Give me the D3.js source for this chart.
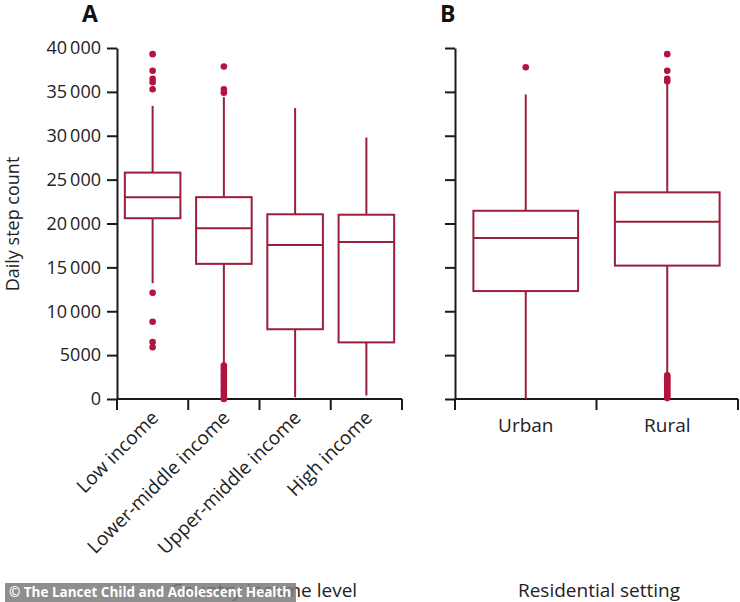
<!DOCTYPE html>
<html>
<head>
<meta charset="utf-8">
<script src="https://cdn.jsdelivr.net/npm/d3@7"></script>
<style>
  body { margin: 0; background: #fff; }
  text { font-family: "Open Sans", "Noto Sans", sans-serif; }
</style>
</head>
<body>
<div id="chart"></div>
<script>
// panel A: country income level
const incomeLevels = ["Low income", "Lower-middle income", "Upper-middle income", "High income"];
const incomeWhiskerLow = [13200, 4100, 200, 400];
const incomeQ1 = [20600, 15400, 7950, 6450];
const incomeMedian = [23000, 19450, 17550, 17900];
const incomeQ3 = [25800, 23000, 21050, 21000];
const incomeWhiskerHigh = [33400, 34400, 33150, 29800];
const incomeOutliers = [
  [39300, 37400, 36500, 36100, 35300, 12100, 8800, 6500, 5900],
  [37900, 35300, 34900, 3800, 3500, 3200, 2800, 2500, 2200, 1900, 1500, 1200, 900, 600, 300, 0],
  [],
  []
];

// panel B: residential setting
const settings = ["Urban", "Rural"];
const settingWhiskerLow = [0, 2900];
const settingQ1 = [12300, 15200];
const settingMedian = [18350, 20200];
const settingQ3 = [21450, 23550];
const settingWhiskerHigh = [34700, 35900];
const settingOutliers = [
  [37800],
  [39300, 37400, 36500, 36200, 2700, 2500, 2300, 2100, 1900, 1700, 1500, 1300, 1100, 900, 700, 500, 300, 100]
];

const yTicks = [0, 5000, 10000, 15000, 20000, 25000, 30000, 35000, 40000];

const boxColor = "#9a1f3a";
const dotColor = "#b3133f";
const axisColor = "#1a1a1a";

const width = 740, height = 602;
const svg = d3.select("#chart").append("svg")
  .attr("width", width)
  .attr("height", height);

const y = d3.scaleLinear().domain([0, 40000]).range([399, 48]);

// thin space as thousands separator from 10 000 up
const fmt = d => d >= 10000 ? d3.format("d")(d).replace(/(\d{3})$/, "\u2009$1") : String(d);

function drawPanel(cfg) {
  const g = svg.append("g");
  const x = d3.scaleBand().domain(cfg.cats).range(cfg.range).padding(0);
  const bw = x.bandwidth() * cfg.boxFrac;

  // y axis
  const yAxis = g.append("g")
    .attr("transform", `translate(${cfg.range[0]},0)`)
    .call(d3.axisLeft(y).tickValues(yTicks).tickSize(10).tickSizeOuter(0)
      .tickFormat(cfg.showLabels ? fmt : ""));
  yAxis.select(".domain").attr("stroke", axisColor).attr("stroke-width", 2);
  yAxis.selectAll(".tick line").attr("stroke", axisColor).attr("stroke-width", 2);
  yAxis.selectAll(".tick text")
    .attr("x", -16)
    .attr("fill", "#222")
    .attr("font-size", 18)
    .attr("font-family", "'Open Sans', sans-serif");

  // x axis: baseline + ticks at band edges
  const edges = cfg.cats.map(c => x(c)).concat([cfg.range[1]]);
  g.append("line")
    .attr("x1", cfg.range[0]).attr("x2", cfg.range[1])
    .attr("y1", y(0)).attr("y2", y(0))
    .attr("stroke", axisColor).attr("stroke-width", 2);
  g.selectAll(".edge").data(edges).join("line")
    .attr("x1", d => d).attr("x2", d => d)
    .attr("y1", y(0)).attr("y2", y(0) + 11)
    .attr("stroke", axisColor).attr("stroke-width", 2);

  const xAxis = g.append("g")
    .attr("transform", `translate(0,${y(0)})`)
    .call(d3.axisBottom(x).tickSize(0));
  xAxis.select(".domain").remove();
  xAxis.selectAll(".tick text")
    .attr("fill", "#222")
    .attr("font-size", 19)
    .attr("font-family", "'Open Sans', sans-serif");
  if (cfg.rotate) {
    xAxis.selectAll(".tick text")
      .attr("text-anchor", "end")
      .attr("dy", 0)
      .attr("transform", "translate(7,20) rotate(-45)")
      .attr("y", 0);
  } else {
    xAxis.selectAll(".tick text").attr("y", 20).attr("dy", "0.71em");
  }

  // boxes
  const rows = cfg.cats.map((c, i) => ({
    cat: c, lo: cfg.lo[i], q1: cfg.q1[i], med: cfg.med[i], q3: cfg.q3[i], hi: cfg.hi[i], out: cfg.out[i]
  }));
  const box = g.selectAll(".box").data(rows).join("g")
    .attr("transform", d => `translate(${x(d.cat) + x.bandwidth() / 2},0)`);

  box.append("line")
    .attr("y1", d => y(d.q3)).attr("y2", d => y(d.hi))
    .attr("stroke", boxColor).attr("stroke-width", 2);
  box.append("line")
    .attr("y1", d => y(d.q1)).attr("y2", d => y(d.lo))
    .attr("stroke", boxColor).attr("stroke-width", 2);
  box.append("rect")
    .attr("x", -bw / 2).attr("width", bw)
    .attr("y", d => y(d.q3)).attr("height", d => y(d.q1) - y(d.q3))
    .attr("fill", "none").attr("stroke", boxColor).attr("stroke-width", 2);
  box.append("line")
    .attr("x1", -bw / 2).attr("x2", bw / 2)
    .attr("y1", d => y(d.med)).attr("y2", d => y(d.med))
    .attr("stroke", boxColor).attr("stroke-width", 2);
  box.selectAll("circle").data(d => d.out).join("circle")
    .attr("cx", 0).attr("cy", d => y(d)).attr("r", 3.3)
    .attr("fill", dotColor);

  // panel letter + axis title
  svg.append("text")
    .attr("x", cfg.letterX).attr("y", 22)
    .attr("font-size", 23).attr("font-weight", "bold")
    .attr("fill", "#111")
    .text(cfg.letter);
  svg.append("text")
    .attr("x", cfg.titleX).attr("y", 597)
    .attr("text-anchor", "middle")
    .attr("font-size", 19).attr("fill", "#222")
    .text(cfg.title);
}

drawPanel({
  cats: incomeLevels, range: [117, 402], boxFrac: 0.78,
  lo: incomeWhiskerLow, q1: incomeQ1, med: incomeMedian, q3: incomeQ3, hi: incomeWhiskerHigh, out: incomeOutliers,
  showLabels: true, rotate: true, letter: "A", letterX: 82, title: "Country income level", titleX: 264
});
drawPanel({
  cats: settings, range: [455, 738], boxFrac: 0.74,
  lo: settingWhiskerLow, q1: settingQ1, med: settingMedian, q3: settingQ3, hi: settingWhiskerHigh, out: settingOutliers,
  showLabels: false, rotate: false, letter: "B", letterX: 440, title: "Residential setting", titleX: 599
});

// y axis title
svg.append("text")
  .attr("transform", "translate(19,224) rotate(-90)")
  .attr("text-anchor", "middle")
  .attr("font-size", 18).attr("fill", "#222")
  .text("Daily step count");

// watermark
svg.append("rect")
  .attr("x", 5).attr("y", 583).attr("width", 291).attr("height", 19)
  .attr("fill", "#7a7a7a").attr("opacity", 0.85);
svg.append("text")
  .attr("x", 9).attr("y", 597)
  .attr("font-family", "'Liberation Sans', Arial, sans-serif")
  .attr("font-size", 13.5).attr("font-weight", "bold")
  .attr("fill", "#fff")
  .text("\u00a9 The Lancet Child and Adolescent Health");
</script>
</body>
</html>
